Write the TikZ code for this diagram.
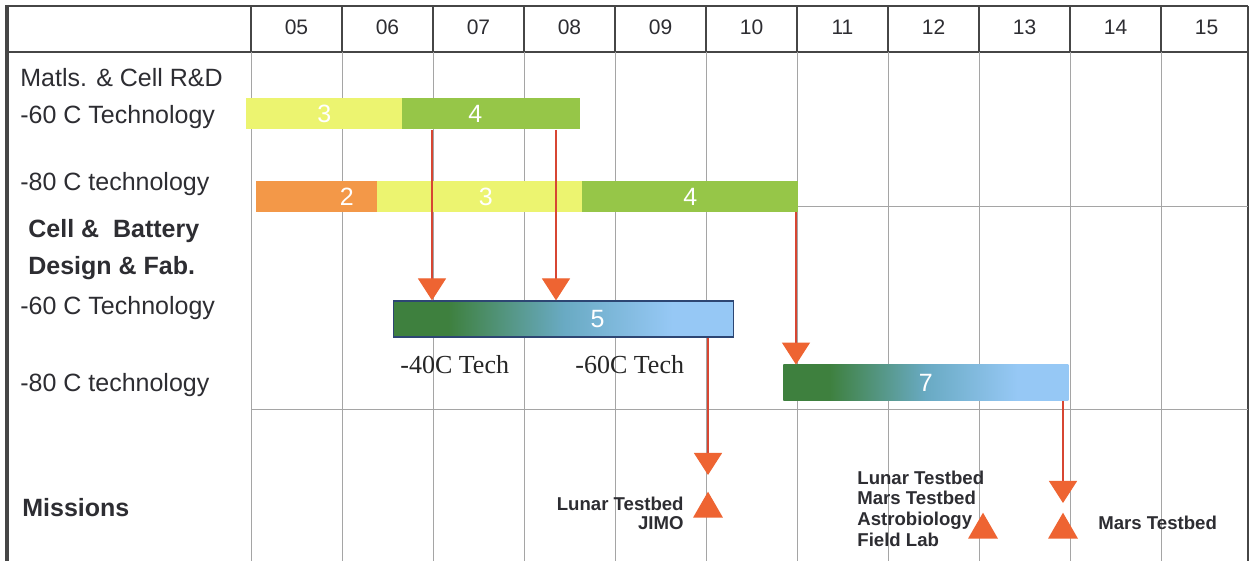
\documentclass[tikz,border=0pt]{standalone}
\usepackage{fontspec}
\setmainfont{Liberation Sans}
\newfontfamily\serifface{Liberation Serif}
\usepackage{xcolor}
\usetikzlibrary{arrows.meta,positioning,shapes.geometric}
\definecolor{txtC}{RGB}{45,45,50}
\definecolor{yelC}{RGB}{236,244,112}
\definecolor{grnC}{RGB}{150,198,72}
\definecolor{ornC}{RGB}{243,152,72}
\definecolor{grnD}{RGB}{62,128,62}
\definecolor{tealM}{RGB}{105,170,195}
\definecolor{bluL}{RGB}{150,200,245}
\definecolor{navC}{RGB}{45,70,115}
\definecolor{lineR}{RGB}{215,70,50}
\definecolor{triC}{RGB}{238,100,50}
\definecolor{gridC}{RGB}{165,165,165}
\definecolor{edgeC}{RGB}{70,70,70}
\pgfdeclarehorizontalshading{barshade}{100bp}{color(0bp)=(grnD); color(33bp)=(grnD);
 color(50bp)=(tealM); color(66bp)=(bluL); color(100bp)=(bluL)}

\begin{document}
\begin{tikzpicture}[x=0.5pt, y=-0.5pt, inner sep=0pt,
 font=\fontsize{12.5}{15}\selectfont, text=txtC,
 >={Triangle[length=11pt,width=14pt,color=triC]},
 bar/.style={rectangle, fill=#1, anchor=west, minimum height=15.5pt},
 gbar/.style={rectangle, shading=barshade, anchor=west, minimum height=18pt},
 num/.style={text=white, font=\fontsize{12.5}{15}\selectfont},
 lbl/.style={anchor=base west},
 bold/.style={anchor=base west, font=\bfseries\fontsize{12.5}{15}\selectfont},
 hdr/.style={anchor=base, font=\fontsize{10.5}{12}\selectfont},
 mis/.style={font=\bfseries\fontsize{9.3}{#1}\selectfont},
 tech/.style={anchor=base west, font=\serifface\fontsize{13}{15}\selectfont, text=black!85},
 link/.style={->, draw=lineR, line width=0.6pt},
 milestone/.style={regular polygon, regular polygon sides=3, fill=triC, minimum size=17.3pt},
 gridln/.style={draw=gridC, line width=0.5pt},
 edgeln/.style={draw=edgeC, line width=0.7pt},
]
\useasboundingbox (0,0) rectangle (1250,561);
\fill[white] (0,0) rectangle (1250,561);

\draw[edgeln] (7,6) -- (1248,6);
\draw[edgeln] (7,52) -- (1248,52);
\draw[edgeln] (1248,6) -- (1248,561);
\draw[edgeln, line width=1.6pt] (7,5) -- (7,561);
\foreach \yr [count=\i from 0] in {05,06,07,08,09,10,11,12,13,14,15} {
 \draw[edgeln] ({251+91*\i},6) -- ({251+91*\i},52);
 \draw[gridln] ({251+91*\i},52) -- ({251+91*\i},561);
 \node[hdr] (y\yr) at ({296.5+91*\i},35) {\yr};
}
\draw[gridln] (797,207) -- (1248,207);
\draw[gridln] (251,410) -- (1248,410);

\node[lbl] (rd) at (20,87) {Matls. \& Cell R\&D};
\node[lbl] (rd60) at (20,124) {-60 C Technology};
\node[lbl] (rd80) at (20,191) {-80 C technology};
\node[bold] (cb) at (28,238) {Cell \&\ \ Battery};
\node[bold] (df) at (28,275) {Design \& Fab.};
\node[lbl] (cb60) at (20,315) {-60 C Technology};
\node[lbl] (cb80) at (20,392) {-80 C technology};
\node[bold] (mis) at (22,517) {Missions};

\node[bar=yelC, minimum width=78pt, label={[num]center:3}] (r1a) at (246,114) {};
\node[bar=grnC, minimum width=89pt, label={[num,xshift=-8pt]center:4}] (r1b) at (402,114) {};
\node[bar=ornC, minimum width=60.5pt, label={[num,xshift=15pt]center:2}] (r2a) at (256,196.5) {};
\node[bar=yelC, minimum width=102.5pt, label={[num,xshift=3pt]center:3}] (r2b) at (377,196.5) {};
\node[bar=grnC, minimum width=108pt, label={[num]center:4}] (r2c) at (582,196.5) {};
\node[gbar, draw=navC, line width=0.6pt, minimum width=170pt,
 label={[num,xshift=17pt]center:5}] (b5) at (393,319) {};
\node[gbar, minimum width=142.5pt, label={[num]center:7}] (b7) at (783,383) {};

\node[tech] (t40) at (400,374) {-40C Tech};
\node[tech] (t60) at (575,374) {-60C Tech};

\coordinate (xa) at (432,0);
\coordinate (xb) at (556,0);
\coordinate (xc) at (796,0);
\coordinate (m1) at (708,475);
\coordinate (m2) at (1063,503);
\draw[link] (r1b.south -| xa) -- (b5.north -| xa);
\draw[link] (r1b.south -| xb) -- (b5.north -| xb);
\draw[link] (r2c.south -| xc) -- (b7.north -| xc);
\draw[link] (b5.south -| m1) -- (m1);
\draw[link] (b7.south -| m2) -- (m2);

\node[milestone] (ms1) at (708,509) {};
\node[milestone] (ms2) at (983,530) {};
\node[milestone] (ms3) at (1063,530) {};

\node[mis=9.5pt, align=right, anchor=base east] (lun) at (684,530) {Lunar Testbed\\JIMO};
\node[mis=10.5pt, align=left, anchor=base west] (lab) at (857,547)
 {Lunar Testbed\\Mars Testbed\\Astrobiology\\Field Lab};
\node[mis=10.5pt, anchor=base west] (mars) at (1098,530) {Mars Testbed};
\end{tikzpicture}
\end{document}
